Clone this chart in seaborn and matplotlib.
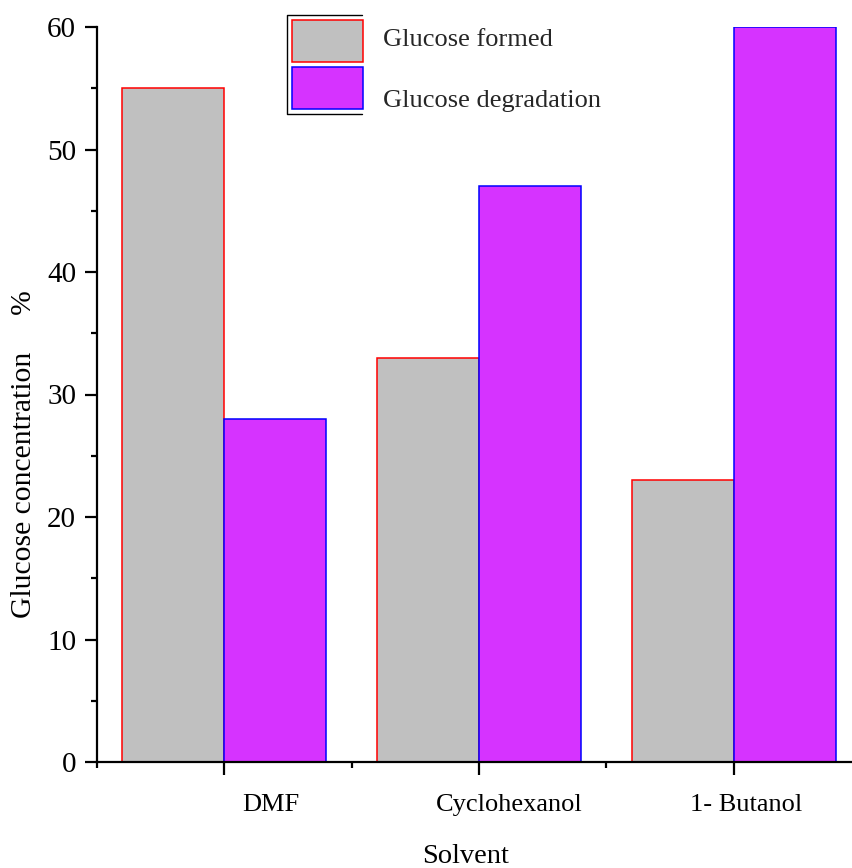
import matplotlib
matplotlib.use("Agg")
import matplotlib.pyplot as plt
from matplotlib.lines import Line2D
from matplotlib.patches import Patch
from matplotlib.ticker import MultipleLocator, FixedLocator
from matplotlib.transforms import ScaledTranslation
import seaborn as sns
import pandas as pd

solvents = ["DMF", "Cyclohexanol", "1- Butanol"]
glucose_formed = [55, 33, 23]
glucose_degradation = [28, 47, 60]
series_names = ["Glucose formed", "Glucose degradation"]

fill_colors = ["#C0C0C0", "#D633FF"]
edge_colors = ["#FF0000", "#0000FF"]

df = pd.DataFrame({
    "Solvent": solvents * 2,
    "value": glucose_formed + glucose_degradation,
    "series": [series_names[0]] * len(solvents) + [series_names[1]] * len(solvents),
})

sns.set_style("ticks")
plt.rcParams["font.family"] = ["Liberation Serif", "DejaVu Serif"]

fig = plt.figure(figsize=(8.53, 8.68), dpi=100)
ax = fig.add_axes([97 / 853, 106 / 868, 764 / 853, 735 / 868])

sns.barplot(data=df, x="Solvent", y="value", hue="series", order=solvents,
            hue_order=series_names, palette=fill_colors, width=0.8,
            saturation=1, ax=ax, legend=False)

for cont, ec in zip(ax.containers, edge_colors):
    for bar in cont:
        bar.set_edgecolor(ec)
        bar.set_linewidth(1.1)

ax.set_xlim(-0.5, 2.5)
ax.set_ylim(0, 60)

for side in ["top", "right"]:
    ax.spines[side].set_visible(False)
for side in ["left", "bottom"]:
    ax.spines[side].set_linewidth(1.6)
    ax.spines[side].set_color("black")

ax.yaxis.set_major_locator(MultipleLocator(10))
ax.yaxis.set_minor_locator(MultipleLocator(5))
ax.xaxis.set_minor_locator(FixedLocator([-0.5, 0.5, 1.5, 2.5]))
ax.tick_params(axis="both", which="major", direction="out", length=9,
               width=1.6, color="black", labelcolor="black")
ax.tick_params(axis="x", which="major", pad=14, labelsize=19)
ax.tick_params(axis="y", which="major", pad=6, labelsize=21)
ax.tick_params(axis="both", which="minor", direction="out", length=4.5,
               width=1.6, color="black")

# category names sit to the right of their ticks
label_shift_px = [47, 30, 12]
for lab, dx in zip(ax.get_xticklabels(), label_shift_px):
    lab.set_transform(lab.get_transform()
                      + ScaledTranslation(dx / 100, 0, fig.dpi_scale_trans))

ax.set_xlabel("Solvent", fontsize=20.5, color="black")
ax.xaxis.set_label_coords(0.482, -0.111)
ax.set_ylabel("Glucose concentration     %", fontsize=21.3, color="black")
ax.yaxis.set_label_coords(-0.0785, 0.419)

handles = [Patch(facecolor=fc, edgecolor=ec, linewidth=1.1)
           for fc, ec in zip(fill_colors, edge_colors)]
leg = fig.legend(handles, series_names, loc="upper left",
                 bbox_to_anchor=(289 / 853, 1 - 17 / 868), frameon=False,
                 fontsize=19, handlelength=2.7, handleheight=2.07,
                 handletextpad=0.75, labelspacing=0.2, borderpad=0.1,
                 borderaxespad=0)
for txt, dy in zip(leg.get_texts(), [3, -11]):
    txt.set_transform(txt.get_transform()
                      + ScaledTranslation(0, dy / 100, fig.dpi_scale_trans))

# open legend frame around the swatches only
fx = [362 / 853, 287 / 853, 287 / 853, 362 / 853]
fy = [1 - 15 / 868, 1 - 15 / 868, 1 - 114 / 868, 1 - 114 / 868]
fig.add_artist(Line2D(fx, fy, transform=fig.transFigure, color="black",
                      linewidth=1.0))

fig.savefig("out.png", dpi=100)
